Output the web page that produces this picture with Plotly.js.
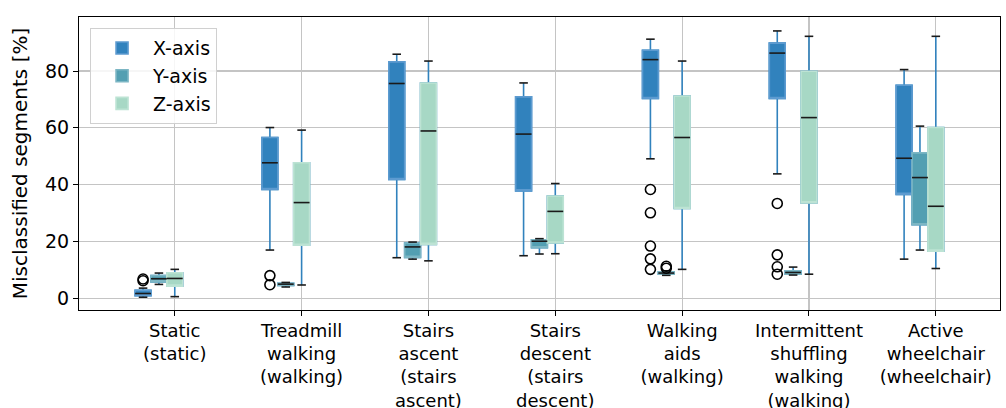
<!DOCTYPE html>
<html>
<head>
<meta charset="utf-8">
<script src="https://cdn.plot.ly/plotly-3.0.1.min.js"></script>
<style>html,body{margin:0;padding:0;background:#fff;}#chart{width:1006px;height:408px;}</style>
</head>
<body>
<div id="chart"></div>
<script>
// ---- data ----
const categories = [
  "Static<br>(static)",
  "Treadmill<br>walking<br>(walking)",
  "Stairs<br>ascent<br>(stairs<br>ascent)",
  "Stairs<br>descent<br>(stairs<br>descent)",
  "Walking<br>aids<br>(walking)",
  "Intermittent<br>shuffling<br>walking<br>(walking)",
  "Active<br>wheelchair<br>(wheelchair)"
];
const seriesNames = ["X-axis", "Y-axis", "Z-axis"];

const xQ1     = [0.9, 38.3, 41.8, 37.8, 70.3, 70.3, 36.6];
const xMedian = [1.7, 47.7, 75.6, 57.8, 84.0, 86.3, 49.3];
const xQ3     = [2.8, 56.6, 83.2, 70.9, 87.3, 89.8, 75.0];
const xLower  = [0.4, 17.0, 14.3, 15.0, 49.1, 43.8, 13.8];
const xUpper  = [3.6, 60.1, 85.9, 75.8, 91.2, 94.1, 80.5];
const xOutliers = [[6.2, 6.8], [4.8, 8.0], [], [], [38.3, 30.1, 18.4, 13.9, 10.2], [33.4, 15.3, 11.1, 8.5], []];

const yQ1     = [5.8, 4.5, 14.4, 17.8, 8.5, 8.5, 25.9];
const yMedian = [6.9, 5.0, 18.1, 20.1, 8.9, 9.1, 42.5];
const yQ3     = [8.0, 5.3, 19.5, 20.6, 9.3, 9.7, 51.2];
const yLower  = [4.9, 4.0, 13.8, 15.6, 8.1, 8.2, 17.0];
const yUpper  = [8.9, 5.6, 19.8, 21.0, 9.7, 11.0, 60.6];
const yOutliers = [[], [], [], [], [10.6, 11.3], [], []];

const zQ1     = [4.3, 18.7, 19.0, 19.5, 31.6, 33.6, 16.6];
const zMedian = [7.0, 33.7, 58.9, 30.6, 56.6, 63.6, 32.4];
const zQ3     = [9.0, 47.7, 75.8, 36.0, 71.2, 79.9, 60.1];
const zLower  = [0.6, 4.7, 13.2, 15.7, 10.2, 8.5, 10.5];
const zUpper  = [10.2, 59.2, 83.5, 40.4, 83.5, 92.2, 92.2];
const zOutliers = [[], [], [], [], [], [], []];

const yTicks = [0, 20, 40, 60, 80];

// ---- style ----
const fills = ["#3182bd", "#539fb2", "#a7d8c5"];
const edges = ["#5d9bd0", "#7cb6c4", "#bde3d4"];
const whiskerColor = "#3182bd";
const boxWidth = 0.125;
const offsets = [-0.25, -0.125, 0];
const capHalf = boxWidth * 0.27;
const FONT = "DejaVu Sans, Liberation Sans, sans-serif";

const series = [
  {q1: xQ1, med: xMedian, q3: xQ3, lo: xLower, hi: xUpper, out: xOutliers},
  {q1: yQ1, med: yMedian, q3: yQ3, lo: yLower, hi: yUpper, out: yOutliers},
  {q1: zQ1, med: zMedian, q3: zQ3, lo: zLower, hi: zUpper, out: zOutliers}
];

const whiskerTraces = [], boxTraces = [], lineTraces = [], outTraces = [];
series.forEach((s, k) => {
  const pos = categories.map((c, i) => i + offsets[k]);
  whiskerTraces.push({
    type: "box", x: pos, q1: s.q1, median: s.med, q3: s.q3,
    lowerfence: s.lo, upperfence: s.hi, width: boxWidth, whiskerwidth: 0,
    boxpoints: false, fillcolor: fills[k], line: {color: whiskerColor, width: 1.6},
    showlegend: false, hoverinfo: "skip", name: seriesNames[k], legendgroup: seriesNames[k]
  });
  boxTraces.push({
    type: "box", x: pos, q1: s.q1, median: s.q1, q3: s.q3,
    lowerfence: s.q1, upperfence: s.q3, width: boxWidth, whiskerwidth: 0,
    boxpoints: false, fillcolor: fills[k], line: {color: edges[k], width: 1.6},
    showlegend: true, hoverinfo: "skip", name: seriesNames[k], legendgroup: seriesNames[k]
  });
  const lx = [], ly = [];
  pos.forEach((p, i) => {
    lx.push(p - boxWidth / 2, p + boxWidth / 2, null); ly.push(s.med[i], s.med[i], null);
    lx.push(p - capHalf, p + capHalf, null); ly.push(s.lo[i], s.lo[i], null);
    lx.push(p - capHalf, p + capHalf, null); ly.push(s.hi[i], s.hi[i], null);
  });
  lineTraces.push({
    type: "scatter", mode: "lines", x: lx, y: ly, connectgaps: false,
    line: {color: "#1a1a1a", width: 1.6}, showlegend: false, hoverinfo: "skip"
  });
  const ox = [], oy = [];
  pos.forEach((p, i) => s.out[i].forEach(v => { ox.push(p); oy.push(v); }));
  outTraces.push({
    type: "scatter", mode: "markers", x: ox, y: oy,
    marker: {symbol: "circle-open", size: 10, color: "#000", line: {width: 1.6, color: "#000"}},
    showlegend: false, hoverinfo: "skip"
  });
});

const data = [...whiskerTraces, ...boxTraces, ...lineTraces, ...outTraces];

const layout = {
  width: 1006, height: 408,
  margin: {l: 79, r: 6, t: 17, b: 98},
  paper_bgcolor: "#fff", plot_bgcolor: "#fff",
  font: {family: FONT, size: 19, color: "#000"},
  boxmode: "overlay",
  showlegend: true,
  legend: {
    x: 0.012, y: 0.962, xanchor: "left", yanchor: "top",
    bgcolor: "rgba(255,255,255,0.85)", bordercolor: "#d0d0d0", borderwidth: 1,
    font: {family: FONT, size: 19, color: "#000"}, itemwidth: 52,
    traceorder: "normal"
  },
  xaxis: {
    range: [-0.755, 6.506], tickmode: "array",
    tickvals: categories.map((c, i) => i), ticktext: categories,
    ticks: "outside", ticklen: 5, tickcolor: "#000", tickwidth: 1,
    ticklabelstandoff: -1,
    showgrid: true, gridcolor: "#c4c4c4", gridwidth: 1.2,
    showline: true, mirror: true, linecolor: "#000", linewidth: 1,
    zeroline: false, tickangle: 0, tickfont: {family: FONT, size: 18, color: "#000"}
  },
  yaxis: {
    range: [-4.1, 99], tickmode: "array", tickvals: yTicks,
    ticks: "outside", ticklen: 5, tickcolor: "#000", tickwidth: 1,
    showgrid: true, gridcolor: "#c4c4c4", gridwidth: 1.2,
    showline: true, mirror: true, linecolor: "#000", linewidth: 1,
    zeroline: false, tickfont: {family: FONT, size: 19, color: "#000"},
    title: {text: "Misclassified segments [%]", font: {family: FONT, size: 20, color: "#000"}, standoff: 12}
  }
};

Plotly.newPlot("chart", data, layout, {displayModeBar: false, staticPlot: true});
</script>
</body>
</html>
